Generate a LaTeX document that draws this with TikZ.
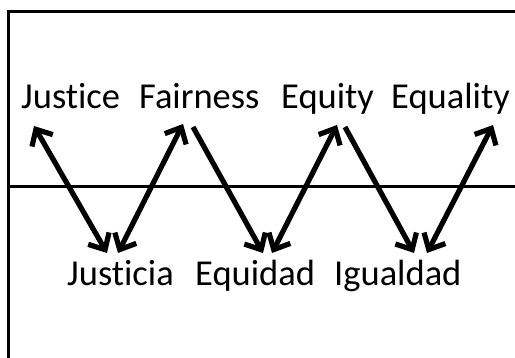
\documentclass[tikz,border=0pt]{standalone}
\usepackage{fontspec}
\setmainfont{Carlito}[Ligatures={NoCommon}]
\usetikzlibrary{arrows.meta}
\begin{document}
\begin{tikzpicture}[x=1pt,y=-1pt,
  word/.style={inner sep=0pt,anchor=base west,font=\fontsize{36.5}{40}\selectfont},
  rule/.style={line width=3pt,black},
  link/.style={line width=5.2pt,black,line cap=butt,
    arrows={-Straight Barb[length=13pt,width=24pt,line width=5.2pt]}},
  dlink/.style={link,arrows={Straight Barb[length=13pt,width=24pt,line width=5.2pt]-Straight Barb[length=13pt,width=24pt,line width=5.2pt]}}]
\useasboundingbox (0,0) rectangle (515,358);
% frame (left and top edges) and middle rule
\draw[rule] (8,358) -- (8,12) -- (515,12);
\draw[rule] (8,187) -- (515,187);
% words
\node[word] (justice)  at (21,109)  {Justice};
\node[word] (fairness) at (139,109) {Fairness};
\node[word] (equity)   at (281,109) {Equity};
\node[word] (equality) at (391,109) {Equality};
\node[word] (justicia) at (67,286)  {Justicia};
\node[word] (equidad)  at (195,286) {Equidad};
\node[word] (igualdad) at (334,286) {Igualdad};
% arrow ends
\coordinate (p1) at (34,126);
\coordinate (q1) at (107,253);
\coordinate (q2) at (118,253);
\coordinate (p2) at (183,124);
\coordinate (p3) at (193,127);
\coordinate (q3) at (263,253);
\coordinate (q4) at (272,253);
\coordinate (p4) at (337,125);
\coordinate (p5) at (345,127);
\coordinate (q5) at (414,253);
\coordinate (q6) at (427,253);
\coordinate (p6) at (493,125);
% connectors
\draw[dlink] (p1) -- (q1);
\draw[dlink] (q2) -- (p2);
\draw[link]  (p3) -- (q3);
\draw[dlink] (q4) -- (p4);
\draw[link]  (p5) -- (q5);
\draw[dlink] (q6) -- (p6);
\end{tikzpicture}
\end{document}
